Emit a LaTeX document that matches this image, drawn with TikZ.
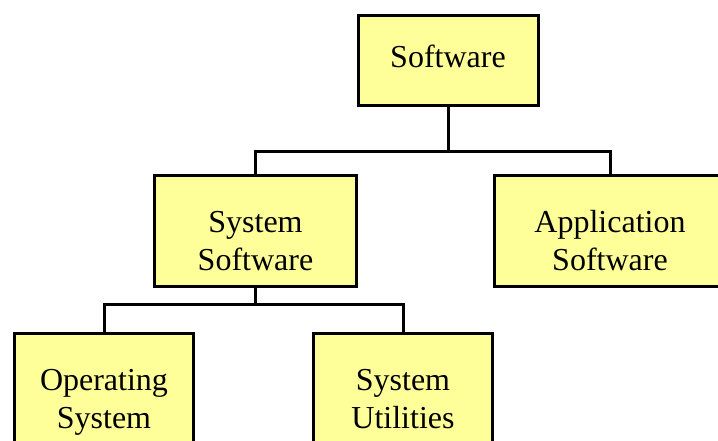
\documentclass[tikz,border=0pt]{standalone}
\usepackage{fontspec}
\setmainfont{Liberation Serif}
\usepackage{xcolor}
\usetikzlibrary{calc,positioning}

\definecolor{boxyellow}{RGB}{255,255,153}

\begin{document}
\begin{tikzpicture}[x=1pt,y=-1pt]

\useasboundingbox (0,0) rectangle (718,441);

\tikzstyle{swbox} = [fill=boxyellow, draw=black, line width=3pt, rectangle, align=center, inner sep=2pt, font=\fontsize{32}{38}\selectfont]
\tikzstyle{onerow} = [text height=21pt, text depth=7pt]
\tikzstyle{tworow} = [text height=78pt, text depth=0pt]
\tikzstyle{link} = [line width=3pt, line cap=rect]

% top of the tree
\node (soft) [swbox,onerow,minimum width=180pt,minimum height=90pt] at (448,60.5) {Software};

% second level
\node (sys) [swbox,tworow,minimum width=202pt,minimum height=111pt] at (255.5,231) {System\\Software};
\node (app) [swbox,tworow,minimum width=231pt,minimum height=111pt] at (610,231) {Application\\Software};

% third level, below system software
\node (os) [swbox,tworow,minimum width=179pt,minimum height=111pt] at (104,389) {Operating\\System};
\node (util) [swbox,tworow,minimum width=179pt,minimum height=111pt] at (403,389) {System\\Utilities};

% the two bus lines
\coordinate (bus1) at (0,152);
\coordinate (bus2) at (0,304);

\draw[link] (soft.south) -- (soft.south |- bus1) -| (sys.north);
\draw[link] (soft.south |- bus1) -| (app.north);
\draw[link] (sys.south) -- (sys.south |- bus2) -| (os.north);
\draw[link] (sys.south |- bus2) -| (util.north);

\end{tikzpicture}
\end{document}
